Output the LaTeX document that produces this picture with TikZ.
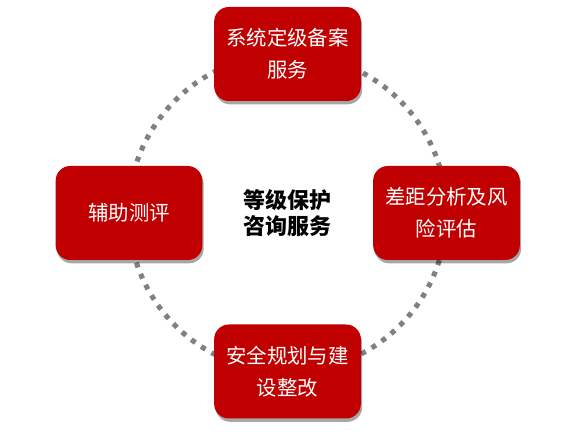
\documentclass[tikz,border=0pt]{standalone}
\usepackage{fontspec}
\setmainfont{Noto Sans CJK SC}
\usetikzlibrary{shadows}
\definecolor{boxred}{RGB}{192,0,0}
\definecolor{dotgray}{RGB}{128,128,128}
\tikzset{
  svcbox/.style={rectangle, rounded corners=11pt, fill=boxred, text=white,
    minimum width=110pt, minimum height=70.5pt, align=center,
    font=\fontsize{15.3}{24}\selectfont,
    drop shadow={shadow xshift=1pt, shadow yshift=-2.5pt, opacity=.35, fill=black}},
  ring/.style={dotgray, line width=3.8pt, dash pattern=on 3.8pt off 5.2pt}
}
\begin{document}
\begin{tikzpicture}[x=0.75pt,y=-0.75pt]
\useasboundingbox (0,0) rectangle (576,438);
\coordinate (mid) at (287.5,213);
\draw[ring] (mid) circle (159);
\node[svcbox] (svc0) at (287.5,54){系统定级备案\\服务};
\node[svcbox] (svc1) at (446.5,213){差距分析及风\\险评估};
\node[svcbox] (svc2) at (287.5,371.5){安全规划与建\\设整改};
\node[svcbox] (svc3) at (129,213){辅助测评};
\node[align=center, font=\fontsize{16.5}{19.5}\bfseries\selectfont] (core) at (mid){等级保护\\咨询服务};
\end{tikzpicture}
\end{document}
